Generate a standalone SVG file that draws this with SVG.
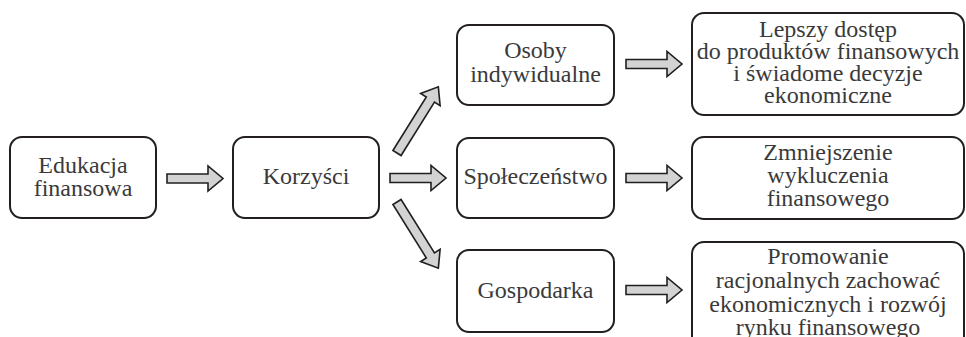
<svg xmlns="http://www.w3.org/2000/svg" width="966" height="337" viewBox="0 0 966 337">
<style>
.box{fill:#fff;stroke:#231f20;stroke-width:2}
.t{font-family:'Liberation Serif','Times New Roman',serif;font-size:24px;fill:#3a3a3a;text-anchor:middle}
.arr{fill:#d3d3d3;stroke:#231f20;stroke-width:1.6;stroke-linejoin:miter}
</style>
<defs>
<path id="ha" d="M0,-4.5 L41,-4.5 L41,-12.5 L56,0 L41,12.5 L41,4.5 L0,4.5 Z"/>
<path id="da" d="M0,-4.8 L63,-4.8 L63,-11.5 L78,0 L63,11.5 L63,4.8 L0,4.8 Z"/>
</defs>
<rect width="966" height="337" fill="#fff"/>
<g id="connectors">
<use href="#ha" class="arr" transform="translate(167,178.5)"/>
<use href="#ha" class="arr" transform="translate(390,178)"/>
<use href="#da" class="arr" transform="translate(397,153) rotate(-58)"/>
<use href="#da" class="arr" transform="translate(397,202) rotate(58)"/>
<use href="#ha" class="arr" transform="translate(626,64)"/>
<use href="#ha" class="arr" transform="translate(626,178)"/>
<use href="#ha" class="arr" transform="translate(626,290)"/>
</g>
<g id="edukacja">
<rect class="box" x="10" y="137" width="146" height="81" rx="12"/>
<text class="t" x="83" y="173">Edukacja</text>
<text class="t" x="83" y="196">finansowa</text>
</g>
<g id="korzysci">
<rect class="box" x="233" y="137" width="146" height="81" rx="12"/>
<text class="t" x="306" y="184">Korzyści</text>
</g>
<g id="osoby">
<rect class="box" x="457" y="25" width="157" height="80" rx="12"/>
<text class="t" x="535.5" y="58">Osoby</text>
<text class="t" x="535.5" y="82">indywidualne</text>
</g>
<g id="spoleczenstwo">
<rect class="box" x="457" y="138" width="157" height="80" rx="12"/>
<text class="t" x="535.5" y="184">Społeczeństwo</text>
</g>
<g id="gospodarka">
<rect class="box" x="457" y="250" width="157" height="82" rx="12"/>
<text class="t" x="535.5" y="298">Gospodarka</text>
</g>
<g id="lepszy">
<rect class="box" x="692" y="13" width="272" height="102" rx="12"/>
<text class="t" x="828" y="37">Lepszy dostęp</text>
<text class="t" x="828" y="59">do produktów finansowych</text>
<text class="t" x="828" y="81">i świadome decyzje</text>
<text class="t" x="828" y="103">ekonomiczne</text>
</g>
<g id="zmniejszenie">
<rect class="box" x="692" y="137" width="272" height="82" rx="12"/>
<text class="t" x="828" y="160">Zmniejszenie</text>
<text class="t" x="828" y="183">wykluczenia</text>
<text class="t" x="828" y="206">finansowego</text>
</g>
<g id="promowanie">
<rect class="box" x="692" y="242" width="272" height="110" rx="12"/>
<text class="t" x="828" y="264">Promowanie</text>
<text class="t" x="828" y="288">racjonalnych zachować</text>
<text class="t" x="828" y="312">ekonomicznych i rozwój</text>
<text class="t" x="828" y="335">rynku finansowego</text>
</g>
</svg>
